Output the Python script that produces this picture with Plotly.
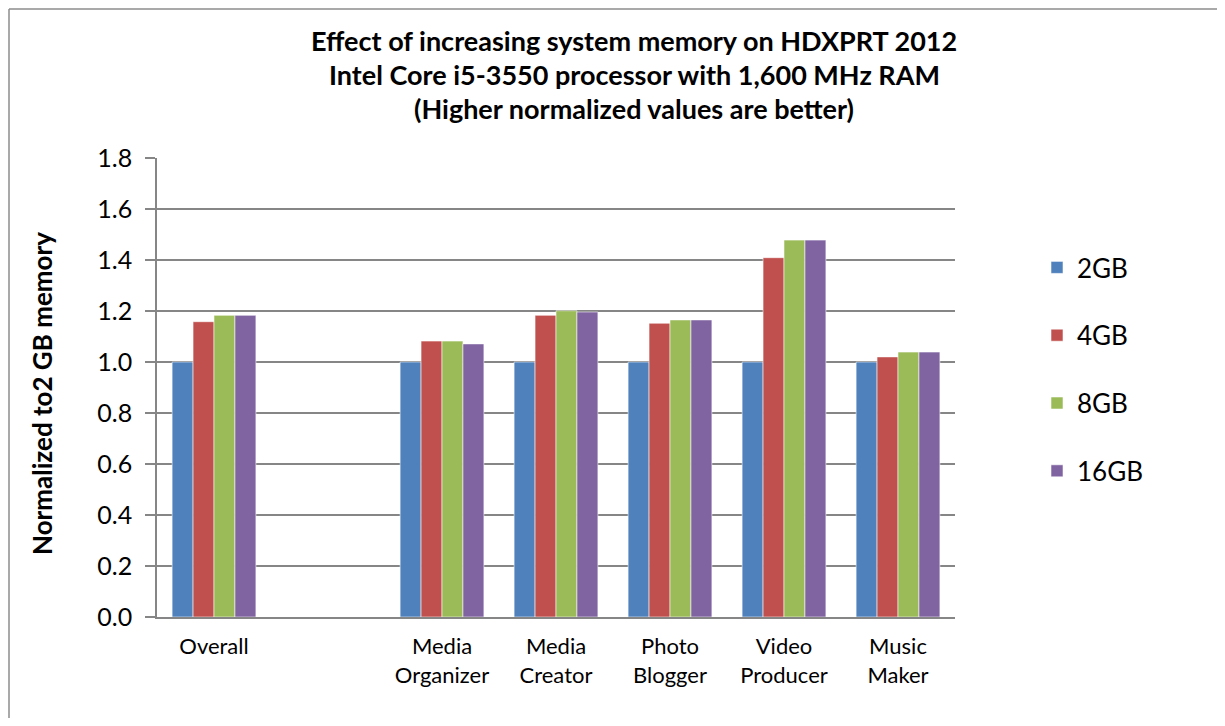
import plotly.graph_objects as go

categories = ["Overall", " ", "Media<br>Organizer", "Media<br>Creator", "Photo<br>Blogger", "Video<br>Producer", "Music<br>Maker"]
series_names = ["2GB", "4GB", "8GB", "16GB"]
vals_2gb = [1.00, None, 1.00, 1.00, 1.00, 1.00, 1.00]
vals_4gb = [1.158, None, 1.082, 1.183, 1.152, 1.409, 1.020]
vals_8gb = [1.183, None, 1.082, 1.201, 1.165, 1.478, 1.039]
vals_16gb = [1.183, None, 1.071, 1.196, 1.165, 1.478, 1.039]
colors = ["#4F81BD", "#C0504D", "#9BBB59", "#8064A2"]
y_ticks = [0.0, 0.2, 0.4, 0.6, 0.8, 1.0, 1.2, 1.4, 1.6, 1.8]
title_lines = ["Effect of increasing system memory on HDXPRT 2012",
               "Intel Core i5-3550 processor with 1,600 MHz RAM",
               "(Higher normalized values are better)"]
y_title = "Normalized to2 GB memory"

FONT = "Lato"
OFF = 8  # page body margin
fig = go.Figure()
for name, vals, col in zip(series_names, [vals_2gb, vals_4gb, vals_8gb, vals_16gb], colors):
    fig.add_trace(go.Bar(
        x=categories, y=vals, name=name, legendgroup=name,
        marker=dict(color=col, line=dict(color="rgba(255,255,255,0.55)", width=1)),
    ))

W, H = 1225 - 2 * OFF, 726 - 2 * OFF
L, T = 157 - OFF, 158 - OFF
pw, ph = 798, 459
R, B = W - L - pw, H - T - ph

def px_x(x):
    # x is in page (screenshot) pixels
    return (x - OFF - L) / pw

def px_y(y):
    return (T + ph - (y - OFF)) / ph

annotations = []
for line, yc in zip(title_lines, [40, 75, 108]):
    annotations.append(dict(text="<b>" + line + "</b>", x=px_x(634), y=px_y(yc), xref="paper", yref="paper",
                            xanchor="center", yanchor="middle", showarrow=False,
                            font=dict(family=FONT, size=27, color="#000000")))
annotations.append(dict(text="<b>" + y_title + "</b>", x=px_x(42), y=px_y(394), xref="paper", yref="paper",
                        xanchor="center", yanchor="middle", showarrow=False, textangle=-90,
                        font=dict(family=FONT, size=26, color="#000000")))

border = dict(color="#8c8c8c", width=1.5)
fig.update_layout(
    width=W, height=H,
    margin=dict(l=L, r=R, t=T, b=B, autoexpand=False),
    paper_bgcolor="white", plot_bgcolor="white",
    barmode="group", bargap=0.265, bargroupgap=0,
    font=dict(family=FONT, size=22, color="#000000"),
    showlegend=True,
    legend=dict(x=px_x(1037), y=px_y(244), xanchor="left", yanchor="top",
                font=dict(family=FONT, size=26, color="#000000"),
                tracegroupgap=31, bgcolor="rgba(0,0,0,0)"),
    annotations=annotations,
    shapes=[
        dict(type="line", xref="paper", yref="paper",
             x0=px_x(OFF + 1), x1=px_x(OFF + 1), y0=px_y(OFF + 1), y1=px_y(OFF + H),
             line=border, layer="below"),
        dict(type="line", xref="paper", yref="paper",
             x0=px_x(OFF + 1), x1=px_x(OFF + W), y0=px_y(OFF + 1), y1=px_y(OFF + 1),
             line=border, layer="below"),
    ],
)
fig.update_xaxes(type="category", categoryorder="array", categoryarray=categories,
                 range=[-0.5, 6.5], showline=True, linecolor="#868686", linewidth=1.5,
                 ticks="", showgrid=False, tickfont=dict(family=FONT, size=22),
                 ticklabelstandoff=9)
fig.update_yaxes(range=[0, 1.8], tickvals=y_ticks, ticktext=[f"{v:.1f}" for v in y_ticks],
                 showline=True, linecolor="#868686", linewidth=1.5,
                 ticks="outside", ticklen=10, tickcolor="#868686", tickwidth=1.5,
                 showgrid=True, gridcolor="#868686", gridwidth=1.5, zeroline=False,
                 tickfont=dict(family=FONT, size=25), ticklabelstandoff=8)

fig.write_html("out.html")
